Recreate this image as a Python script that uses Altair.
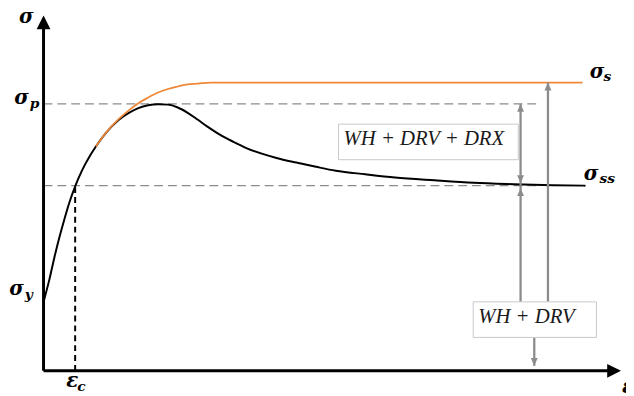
import altair as alt
import pandas as pd

# ---- values (strain / stress, arbitrary units 0-100) ----
drx_strain = [0, 1.04, 1.90, 2.77, 3.63, 4.50, 5.54, 6.75, 7.96, 9.17,
              10.90, 13.15, 14.88, 16.61, 18.34, 20.07, 21.80, 23.53, 25.26, 26.99,
              28.72, 30.45, 32.18, 33.91, 35.64, 38.24, 40.83, 44.29, 47.75, 51.21,
              56.40, 61.59, 68.51, 75.43, 82.35, 89.27, 94.98]
drx_stress = [19.4, 25.8, 31.9, 37.5, 42.5, 47.2, 51.9, 56.4, 60.0, 63.1,
              66.9, 70.6, 72.5, 73.9, 74.7, 75.0, 74.9, 74.1, 72.6, 70.7,
              68.7, 66.9, 65.3, 63.9, 62.6, 61.1, 59.9, 58.6, 57.4, 56.3,
              55.3, 54.4, 53.6, 52.9, 52.5, 52.2, 52.1]
drv_strain = [9.17, 10.90, 13.15, 14.88, 16.61, 18.34, 20.07, 21.80, 23.53, 25.26, 26.99, 29.24, 94.46]
drv_stress = [63.1, 66.9, 70.8, 73.2, 75.3, 76.9, 78.3, 79.3, 80.0, 80.6, 80.8, 81.1, 81.1]

SIGMA_Y = 19.4
SIGMA_P = 75.1
SIGMA_SS = 52.1
SIGMA_S = 81.1
EPS_C = 5.54
REF_END = 86.9          # end of the dashed reference lines
AX_MAX = 101.2          # arrow tips of the axes

box_labels = ["WH + DRV + DRX", "WH + DRV"]
box_x1 = [51.7, 75.3]
box_x2 = [83.2, 96.9]
box_y1 = [59.4, 9.4]
box_y2 = [69.4, 19.4]

arrow_x = [83.6, 83.6, 88.4, 86.0]
arrow_from = [SIGMA_SS, 19.4, 19.4, 9.4]
arrow_to = [SIGMA_P, SIGMA_SS, SIGMA_S, 1.4]

head_x = [83.6, 83.6, 83.6, 88.4, 86.0]
head_y = [SIGMA_P, 52.8, 51.4, SIGMA_S, 1.4]
head_dir = ["up", "down", "up", "up", "down"]

# ---- scales ----
xs = alt.Scale(domain=[0, 100], nice=False, zero=False)
ys = alt.Scale(domain=[0, 100], nice=False, zero=False)
X = alt.X("x:Q", scale=xs, axis=None)
Y = alt.Y("y:Q", scale=ys, axis=None)

UP = "M0,0L1,2.3L-1,2.3Z"
DOWN = "M0,0L1,-2.3L-1,-2.3Z"
GRAY = "#8c8c8c"
FONT = "DejaVu Serif"

drx = alt.Chart(pd.DataFrame({"x": drx_strain, "y": drx_stress})).mark_line(
    color="black", strokeWidth=2, interpolate="monotone").encode(x=X, y=Y)
drv = alt.Chart(pd.DataFrame({"x": drv_strain, "y": drv_stress})).mark_line(
    color="#F0883A", strokeWidth=1.8, interpolate="monotone").encode(x=X, y=Y)

hdash = alt.Chart(pd.DataFrame({"x": [0, 0], "x2": [REF_END, REF_END],
                                "y": [SIGMA_P, SIGMA_SS]})).mark_rule(
    color=GRAY, strokeWidth=1.2, strokeDash=[9, 5]).encode(x=X, x2="x2:Q", y=Y)
vdash = alt.Chart(pd.DataFrame({"x": [EPS_C], "y": [0], "y2": [SIGMA_SS]})).mark_rule(
    color="black", strokeWidth=2, strokeDash=[6, 4]).encode(x=X, y=Y, y2="y2:Q")

boxes = alt.Chart(pd.DataFrame({"x": box_x1, "x2": box_x2, "y": box_y1, "y2": box_y2,
                                "t": box_labels})).mark_rect(
    fill="white", stroke="#c8c8c8", strokeWidth=1).encode(x=X, x2="x2:Q", y=Y, y2="y2:Q")
box_text = alt.Chart(pd.DataFrame({"x": box_x1, "y": box_y1, "t": box_labels})).mark_text(
    align="left", baseline="alphabetic", dx=5, dy=-15, fontSize=21,
    font="Liberation Serif", fontStyle="italic", color="#1a1a1a").encode(x=X, y=Y, text="t:N")

shafts = alt.Chart(pd.DataFrame({"x": arrow_x, "y": arrow_from, "y2": arrow_to})).mark_rule(
    color=GRAY, strokeWidth=2.3).encode(x=X, y=Y, y2="y2:Q")
heads = alt.Chart(pd.DataFrame({"x": head_x, "y": head_y,
                                "s": [UP if d == "up" else DOWN for d in head_dir]})).mark_point(
    filled=True, opacity=1, color=GRAY, size=49, strokeWidth=0).encode(
    x=X, y=Y, shape=alt.Shape("s:N", scale=None))

axes = alt.Chart(pd.DataFrame({"x": [0, 0], "x2": [99.1, 0], "y": [0, 0], "y2": [0, 96.9]})).mark_rule(
    color="black", strokeWidth=3).encode(x=X, x2="x2:Q", y=Y, y2="y2:Q")
axis_heads = alt.Chart(pd.DataFrame({"x": [AX_MAX, 0], "y": [0, 100],
                                     "s": ["M0,0L-2,-1L-2,1Z", "M0,0L1,2L-1,2Z"]})).mark_point(
    filled=True, opacity=1, color="black", size=196, strokeWidth=0).encode(
    x=X, y=Y, shape=alt.Shape("s:N", scale=None))


def label(x, y, text, dx, dy, size=20, align="left"):
    return alt.Chart(pd.DataFrame({"x": [x], "y": [y], "t": [text]})).mark_text(
        dx=dx, dy=dy, align=align, baseline="alphabetic", fontSize=size,
        font=FONT, fontStyle="italic", fontWeight="bold", color="black"
    ).encode(x=X, y=Y, text="t:N")


labels = [
    label(0, 100, "σ", -10, 8, align="right"),
    label(0, SIGMA_P, "σ", -15, 0, align="right"),
    label(0, SIGMA_P, "p", -14, 4, size=14),
    label(0, SIGMA_Y, "σ", -20, -7, align="right"),
    label(0, SIGMA_Y, "y", -19, -3, size=14),
    label(EPS_C, 0, "ε", -9, 16),
    label(EPS_C, 0, "c", 2, 20, size=14),
    label(94.5, SIGMA_S, "σ", 7, -5),
    label(94.5, SIGMA_S, "s", 21, -2, size=14),
    label(95.0, SIGMA_SS, "σ", -2, -5.5),
    label(95.0, SIGMA_SS, "ss", 14, -2.5, size=14),
    label(AX_MAX, 0, "ε", 1, 22),
]

chart = alt.layer(hdash, vdash, drx, drv, shafts, boxes, box_text, heads, axes, axis_heads,
                  *labels).properties(
    width=578, height=360,
    autosize=alt.AutoSizeParams(type="none"),
    padding={"left": 36, "top": 5, "right": 12, "bottom": 23},
).configure_view(stroke=None)

chart.save("out.html", embed_options={"renderer": "svg", "actions": False})
